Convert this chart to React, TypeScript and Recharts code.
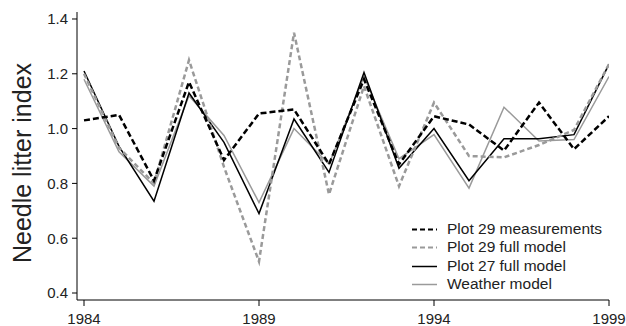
import React from 'react';
import { LineChart, Line, XAxis, YAxis } from 'recharts';

const years = [1984, 1985, 1986, 1987, 1988, 1989, 1990, 1991, 1992, 1993, 1994, 1995, 1996, 1997, 1998, 1999];
const plot29Measured = [1.03, 1.05, 0.81, 1.17, 0.885, 1.055, 1.07, 0.87, 1.18, 0.87, 1.045, 1.015, 0.92, 1.095, 0.925, 1.045];
const plot29Full = [1.2, 0.93, 0.8, 1.25, 0.86, 0.515, 1.35, 0.76, 1.155, 0.79, 1.095, 0.9, 0.895, 0.94, 0.995, 1.235];
const plot27Full = [1.21, 0.935, 0.735, 1.13, 0.95, 0.69, 1.035, 0.84, 1.205, 0.855, 1.0, 0.81, 0.963, 0.963, 0.978, 1.235];
const weatherModel = [1.18, 0.915, 0.79, 1.12, 0.975, 0.73, 1.0, 0.87, 1.19, 0.89, 0.978, 0.783, 1.078, 0.955, 0.96, 1.19];

const xTicks = [1984, 1989, 1994, 1999];
const yTicks = [0.4, 0.6, 0.8, 1.0, 1.2, 1.4];

const seriesNames = ['Plot 29 measurements', 'Plot 29 full model', 'Plot 27 full model', 'Weather model'];

const data = years.map((year, i) => ({
  year,
  m29: plot29Measured[i],
  f29: plot29Full[i],
  f27: plot27Full[i],
  weather: weatherModel[i],
}));

const FONT = '"Liberation Sans", Arial, Helvetica, sans-serif';
const GRAY = '#9a9a9a';

const legendStyles = [
  { stroke: '#000', dash: '5 3', width: 2 },
  { stroke: GRAY, dash: '5 3', width: 2 },
  { stroke: '#000', dash: undefined, width: 1.5 },
  { stroke: GRAY, dash: undefined, width: 1.5 },
];

const YLabel = (props: any) => {
  const vb = props.viewBox || { x: 0, y: 12, width: 77, height: 288 };
  const cx = 31;
  const cy = vb.y + vb.height / 2 + 7;
  return (
    <text
      x={cx}
      y={cy}
      transform={`rotate(-90, ${cx}, ${cy})`}
      textAnchor="middle"
      fontSize={25}
      fill="#222"
      fontFamily={FONT}
    >
      Needle litter index
    </text>
  );
};

export default function App() {
  return (
    <div style={{ position: 'absolute', left: 0, top: 0, width: 626, height: 326, background: '#fff', fontFamily: FONT }}>
      <LineChart width={626} height={326} data={data} margin={{ top: 12, right: 17, bottom: 0, left: 0 }}>
        <XAxis
          dataKey="year"
          type="number"
          domain={[1983.8, 1999]}
          ticks={xTicks}
          allowDataOverflow
          height={26}
          tickSize={6}
          tickMargin={7}
          stroke="#000"
          tick={{ fill: '#222', fontSize: 15, fontFamily: FONT }}
        />
        <YAxis
          type="number"
          domain={[0.3745, 1.4255]}
          ticks={yTicks}
          allowDataOverflow
          width={77}
          tickSize={5}
          tickMargin={4}
          stroke="#000"
          tickFormatter={(v: number) => v.toFixed(1)}
          tick={{ fill: '#222', fontSize: 15, fontFamily: FONT }}
          label={<YLabel />}
        />
        <Line dataKey="weather" name={seriesNames[3]} stroke={GRAY} strokeWidth={1.5} dot={false} isAnimationActive={false} />
        <Line dataKey="f27" name={seriesNames[2]} stroke="#000" strokeWidth={1.5} dot={false} isAnimationActive={false} />
        <Line dataKey="f29" name={seriesNames[1]} stroke={GRAY} strokeWidth={2.5} strokeDasharray="5 3" dot={false} isAnimationActive={false} />
        <Line dataKey="m29" name={seriesNames[0]} stroke="#000" strokeWidth={2.5} strokeDasharray="6 3" dot={false} isAnimationActive={false} />
      </LineChart>
      <div style={{ position: 'absolute', left: 410, top: 220, fontSize: 15.5, color: '#222', lineHeight: '18.3px' }}>
        {seriesNames.map((name, i) => (
          <div key={name} style={{ display: 'flex', alignItems: 'center', height: 18.3, whiteSpace: 'nowrap' }}>
            <svg width={37} height={18} style={{ display: 'block' }}>
              <line
                x1={2}
                x2={27}
                y1={9.5}
                y2={9.5}
                stroke={legendStyles[i].stroke}
                strokeWidth={legendStyles[i].width}
                strokeDasharray={legendStyles[i].dash}
              />
            </svg>
            <span>{name}</span>
          </div>
        ))}
      </div>
    </div>
  );
}
